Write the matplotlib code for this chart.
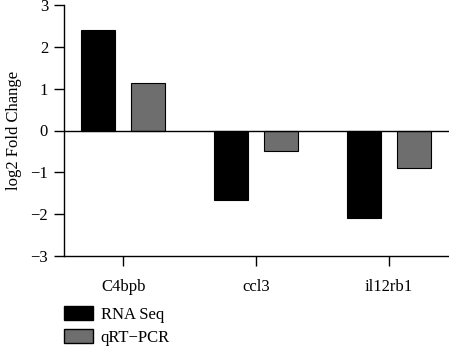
import numpy as np
import matplotlib.pyplot as plt
from matplotlib.patches import Patch

# Datos
genes = ['C4bpb', 'ccl3', 'il12rb1']
rna_seq = [2.4, -1.67, -2.08]
qrt_pcr = [1.13, -0.5, -0.9]
yticks = [-3, -2, -1, 0, 1, 2, 3]

plt.rcParams['font.family'] = ['Liberation Serif', 'DejaVu Serif']

fig = plt.figure(figsize=(4.49, 3.48), dpi=100)
ax = fig.add_axes([64 / 449, 92 / 348, 1 - 64 / 449, 251 / 348])

x = np.arange(len(genes))
w = 0.256
ax.bar(x - 0.19, rna_seq, w, color='black', edgecolor='black', linewidth=0.8)
ax.bar(x + 0.19, qrt_pcr, w, color='#6e6e6e', edgecolor='black', linewidth=0.8)
ax.axhline(0, color='black', linewidth=1.0)

ax.set_xlim(-0.445, 2.45)
ax.set_ylim(-3, 3)
ax.set_yticks(yticks)
ax.set_yticklabels([str(t).replace('-', '\u2212') for t in yticks])
ax.set_xticks(x)
ax.set_xticklabels(genes)
ax.tick_params(labelsize=12, length=7.5, width=1.0, colors='black', pad=4)
ax.tick_params(axis='x', pad=9)
ax.set_ylabel('log2 Fold Change', fontsize=12, labelpad=6)

for s in ['top', 'right']:
    ax.spines[s].set_visible(False)
for s in ['left', 'bottom']:
    ax.spines[s].set_linewidth(1.0)

handles = [Patch(facecolor='black', edgecolor='black', label='RNA Seq'),
           Patch(facecolor='#6e6e6e', edgecolor='black', label='qRT\u2212PCR')]
fig.legend(handles=handles, loc='upper left', bbox_to_anchor=(64 / 449, 1 - 306 / 348),
           frameon=False, fontsize=12, handlelength=1.75, handleheight=0.95,
           labelspacing=0.35, handletextpad=0.45, borderpad=0, borderaxespad=0)

plt.savefig('out.png', dpi=100)
